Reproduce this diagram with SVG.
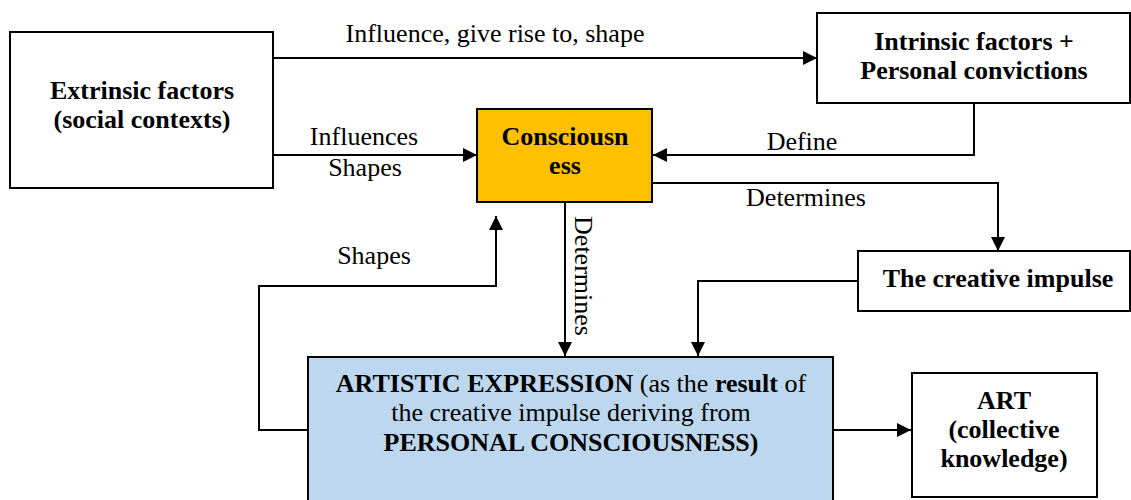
<svg xmlns="http://www.w3.org/2000/svg" width="1131" height="500" viewBox="0 0 1131 500">
  <style>
    .box { fill: #ffffff; stroke: #000000; stroke-width: 2; }
    .core { fill: #ffc000; stroke: #000000; stroke-width: 2; }
    .expr { fill: #bdd7ee; stroke: #000000; stroke-width: 2; }
    .t { font-family: "Liberation Serif", "Times New Roman", serif; font-size: 26px; fill: #000000; }
    .b { font-weight: bold; }
    .c { text-anchor: middle; }
    .link { fill: none; stroke: #000000; stroke-width: 2; }
    .head { marker-end: url(#arrow); }
  </style>
  <defs>
    <marker id="arrow" markerUnits="userSpaceOnUse" viewBox="0 0 14 14" refX="14" refY="7" markerWidth="14" markerHeight="14" orient="auto">
      <path d="M0,0 L14,7 L0,14 z" fill="#000000"/>
    </marker>
  </defs>
  <rect width="1131" height="500" fill="#ffffff"/>

  <!-- connectors -->
  <g id="connectors">
    <line class="link head" x1="274" y1="58" x2="817" y2="58"/>
    <line class="link head" x1="274" y1="155" x2="477" y2="155"/>
    <polyline class="link head" points="974,103 974,155 653,155"/>
    <polyline class="link head" points="653,183 998,183 998,251"/>
    <polyline class="link head" points="858,281 698,281 698,356"/>
    <line class="link head" x1="565" y1="203" x2="565" y2="356"/>
    <polyline class="link head" points="308,430 259,430 259,286 496,286 496,216"/>
    <line class="link head" x1="834" y1="430" x2="911" y2="430"/>

    <text class="t c" x="495" y="42">Influence, give rise to, shape</text>
    <text class="t c" x="364" y="145">Influences</text>
    <text class="t c" x="365" y="176">Shapes</text>
    <text class="t c" x="802" y="150">Define</text>
    <text class="t c" x="806" y="206">Determines</text>
    <text class="t c" x="374" y="264">Shapes</text>
    <text class="t c" transform="translate(575,276) rotate(90)" x="0" y="0">Determines</text>
  </g>

  <!-- nodes -->
  <g id="extrinsic">
    <rect class="box" x="10" y="32" width="263" height="156"/>
    <text class="t b c" x="142" y="99">Extrinsic factors</text>
    <text class="t b c" x="142" y="128">(social contexts)</text>
  </g>

  <g id="intrinsic">
    <rect class="box" x="817" y="13" width="313" height="90"/>
    <text class="t b c" x="974" y="50">Intrinsic factors +</text>
    <text class="t b c" x="974" y="79">Personal convictions</text>
  </g>

  <g id="consciousness">
    <rect class="core" x="477" y="109" width="175" height="93"/>
    <text class="t b c" x="565" y="145">Consciousn</text>
    <text class="t b c" x="565" y="174">ess</text>
  </g>

  <g id="creative-impulse">
    <rect class="box" x="858" y="251" width="272" height="60"/>
    <text class="t b c" x="998" y="287">The creative impulse</text>
  </g>

  <g id="artistic-expression">
    <rect class="expr" x="308" y="357" width="525" height="150"/>
    <text class="t c" x="571" y="392"><tspan class="b">ARTISTIC EXPRESSION</tspan> (as the <tspan class="b">result</tspan> of</text>
    <text class="t c" x="571" y="421">the creative impulse deriving from</text>
    <text class="t b c" x="571" y="451">PERSONAL CONSCIOUSNESS)</text>
  </g>

  <g id="art">
    <rect class="box" x="912" y="373" width="185" height="124"/>
    <text class="t b c" x="1004" y="409">ART</text>
    <text class="t b c" x="1004" y="438">(collective</text>
    <text class="t b c" x="1004" y="467">knowledge)</text>
  </g>
</svg>
